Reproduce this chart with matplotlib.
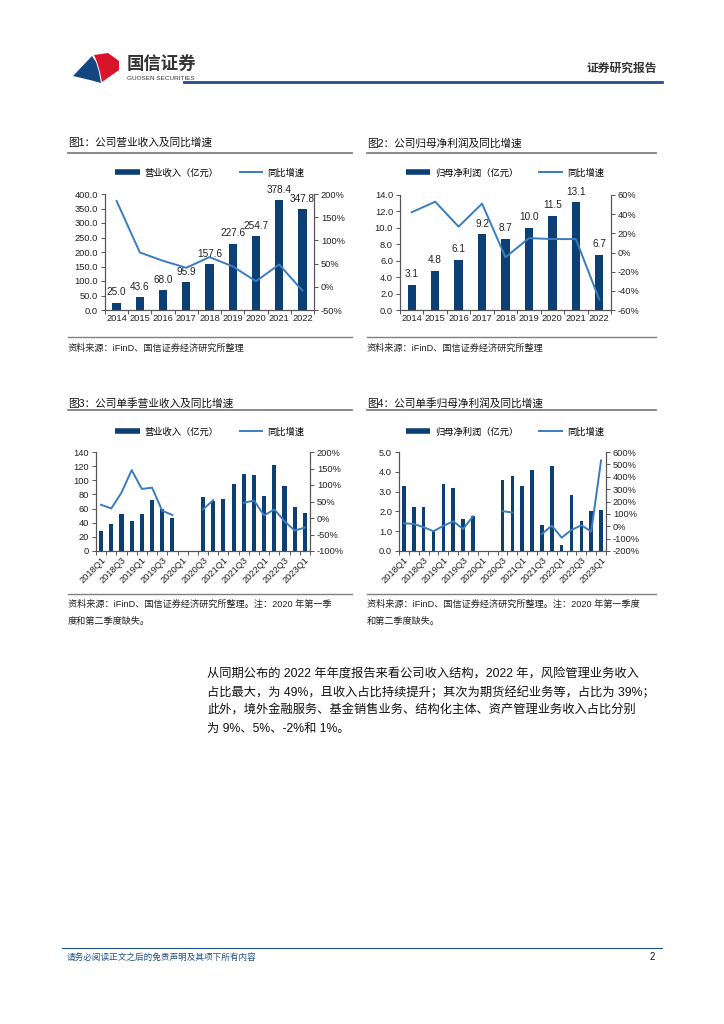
import numpy as np
import matplotlib
matplotlib.use("Agg")
import matplotlib.pyplot as plt
from matplotlib.lines import Line2D
from matplotlib.patches import Polygon

plt.rcParams['font.family'] = ['Liberation Sans', 'Noto Sans CJK SC', 'DejaVu Sans']
plt.rcParams['axes.unicode_minus'] = False

W, H = 724, 1024
BAR = '#0c3f73'
LINE = '#3a7cc2'
nan = np.nan

# ---- data ----
years = ['2014', '2015', '2016', '2017', '2018', '2019', '2020', '2021', '2022']
revenue = [25.0, 43.6, 68.0, 95.9, 157.6, 227.6, 254.7, 378.4, 347.8]
revenue_yoy = [185, 74, 56, 41, 64, 44, 12, 48, -8]
profit = [3.1, 4.8, 6.1, 9.2, 8.7, 10.0, 11.5, 13.1, 6.7]
profit_yoy = [42, 53, 27, 51, -5, 15, 14, 14, -49]

quarters = ['2018Q1', '2018Q2', '2018Q3', '2018Q4', '2019Q1', '2019Q2', '2019Q3', '2019Q4',
            '2020Q1', '2020Q2', '2020Q3', '2020Q4', '2021Q1', '2021Q2', '2021Q3', '2021Q4',
            '2022Q1', '2022Q2', '2022Q3', '2022Q4', '2023Q1']
q_revenue = [28, 38, 52, 43, 52, 72, 60, 46, nan, nan, 76, 71, 74, 95, 109, 107,
             78, 121, 92, 62, 54]
q_revenue_yoy = [40, 29, 77, 145, 88, 92, 22, 9, nan, nan, 26, 54, nan, nan, 46, 53,
                 8, 26, -10, -38, -29]
q_profit = [3.3, 2.2, 2.2, 1.0, 3.4, 3.2, 1.64, 1.77, nan, nan, 3.6, 3.8, 3.28, 4.1, 1.32, 4.3,
            0.3, 2.84, 1.54, 2.0, 2.08]
q_profit_yoy = [24, 19, -8, -40, 3, 40, -22, 80, nan, nan, 122, 111, nan, nan, -62, 5,
                -92, -30, 8, -43, 532]


def rect(x0, y0, x1, y1):
    return [x0 / W, 1 - y1 / H, (x1 - x0) / W, (y1 - y0) / H]


def ftext(x, y, s, **kw):
    fig.text(x / W, 1 - y / H, s, **kw)


def hline(x0, x1, y, color, lw):
    fig.add_artist(Line2D([x0 / W, x1 / W], [1 - y / H, 1 - y / H], color=color, lw=lw,
                          transform=fig.transFigure))


def combo(box, cats, bars, yoy, ylim, ystep, yfmt, rlim, rstep, width, legend_xy, labels,
          bar_label=False, rotate=False):
    ax = fig.add_axes(rect(*box))
    x = np.arange(len(cats))
    ax.bar(x, bars, width=width, color=BAR, zorder=2)
    if bar_label:
        for i, v in enumerate(bars):
            ax.annotate(f'{v:.1f}', (i, v), xytext=(0, 4), textcoords='offset points',
                        ha='center', va='bottom', fontsize=7.2, color='#222222')
    ax.set_xlim(-0.5, len(cats) - 0.5)
    ax.set_ylim(*ylim)
    ax.set_yticks(np.arange(ylim[0], ylim[1] + ystep / 2, ystep))
    ax.set_yticklabels([yfmt.format(v) for v in ax.get_yticks()])
    ax2 = ax.twinx()
    ax2.plot(x, yoy, color=LINE, lw=1.4, zorder=3)
    ax2.set_ylim(*rlim)
    rt = np.arange(rlim[0], rlim[1] + rstep / 2, rstep)
    ax2.set_yticks(rt)
    ax2.set_yticklabels([f'{int(v)}%' for v in rt])
    if rotate:
        ax.set_xticks(x[::2])
        ax.set_xticklabels(cats[::2], rotation=45, ha='right', rotation_mode='anchor')
    else:
        ax.set_xticks(x)
        ax.set_xticklabels(cats)
    ax.set_xticks(np.arange(-0.5, len(cats), 1), minor=True)
    for a in (ax, ax2):
        a.spines['top'].set_visible(False)
        for s in ('left', 'right', 'bottom'):
            a.spines[s].set_color('#555555')
            a.spines[s].set_linewidth(0.8)
        a.tick_params(labelsize=6.7, length=3, width=0.7, color='#555555', pad=2,
                      labelcolor='#222222')
    ax.tick_params(axis='x', which='major', length=0, pad=3)
    ax.tick_params(axis='x', which='minor', length=3, width=0.7, color='#555555')
    handles = [Line2D([], [], color=BAR, lw=4, solid_capstyle='butt'),
               Line2D([], [], color=LINE, lw=1.4, solid_capstyle='butt')]
    ax.legend(handles, labels, loc='center', ncol=2, frameon=False, fontsize=6.7,
              bbox_to_anchor=(legend_xy[0] / W, 1 - legend_xy[1] / H),
              bbox_transform=fig.transFigure, handlelength=2.6, handletextpad=0.5,
              columnspacing=2.2)
    return ax


fig = plt.figure(figsize=(W / 100, H / 100), dpi=100)

# ---- header ----
logo = fig.add_axes([0, 0, 1, 1], zorder=-1)
logo.set_xlim(0, W)
logo.set_ylim(H, 0)
logo.axis('off')
logo.add_patch(Polygon([(73, 76), (92, 56), (96, 62), (99, 72), (101, 83), (90, 80)],
                       closed=True, color='#12487f', lw=0))
logo.add_patch(Polygon([(94, 55), (108, 53), (119, 61), (119, 70), (102, 82), (100, 72), (97, 62)],
                       closed=True, color='#d9142a', lw=0))
ftext(127, 63, '国信证券', fontsize=12.5, fontweight='bold', color='#333333', va='center')
ftext(127, 78, 'GUOSEN SECURITIES', fontsize=4.6, color='#333333', va='center')
ftext(657, 69, '证券研究报告', fontsize=8.5, fontweight='bold', color='#333333',
      ha='right', va='center')
hline(184, 662, 82, '#1f4e86', 2.0)

# ---- chart titles and rules ----
titles = [(68, 143, '图1：公司营业收入及同比增速'), (367, 143, '图2：公司归母净利润及同比增速'),
          (68, 403, '图3：公司单季营业收入及同比增速'), (367, 403, '图4：公司单季归母净利润及同比增速')]
for tx, ty, t in titles:
    ftext(tx, ty, t, fontsize=7.7, va='center', color='#111111')
for x0, x1 in ((68, 352), (367, 656)):
    hline(x0, x1, 153, '#808080', 1.3)
    hline(x0, x1, 337, '#808080', 1.0)
    hline(x0, x1, 410, '#808080', 1.3)
    hline(x0, x1, 594, '#808080', 1.0)

src = '资料来源：iFinD、国信证券经济研究所整理'
ftext(68, 348, src, fontsize=6.6, va='center', color='#222222')
ftext(367, 348, src, fontsize=6.6, va='center', color='#222222')
ftext(68, 604, src + '。注：2020 年第一季', fontsize=6.6, va='center', color='#222222')
ftext(68, 621, '度和第二季度缺失。', fontsize=6.6, va='center', color='#222222')
ftext(367, 604, src + '。注：2020 年第一季度', fontsize=6.6, va='center', color='#222222')
ftext(367, 621, '和第二季度缺失。', fontsize=6.6, va='center', color='#222222')

# ---- charts ----
combo((105, 194, 314, 310), years, revenue, revenue_yoy, (0, 400), 50, '{:.1f}',
      (-50, 200), 50, 0.36, (210, 173), ['营业收入（亿元）', '同比增速'], bar_label=True)
combo((400, 195, 611, 310), years, profit, profit_yoy, (0, 14), 2, '{:.1f}',
      (-60, 60), 20, 0.36, (505, 173), ['归母净利润（亿元）', '同比增速'], bar_label=True)
combo((96, 452, 310, 551), quarters, q_revenue, q_revenue_yoy, (0, 140), 20, '{:.0f}',
      (-100, 200), 50, 0.4, (210, 432), ['营业收入（亿元）', '同比增速'], rotate=True)
combo((399, 452, 606, 551), quarters, q_profit, q_profit_yoy, (0, 5), 1, '{:.1f}',
      (-200, 600), 100, 0.36, (505, 432), ['归母净利润（亿元）', '同比增速'], rotate=True)

# ---- body text ----
body = ['从同期公布的 2022 年年度报告来看公司收入结构，2022 年，风险管理业务收入',
        '占比最大，为 49%，且收入占比持续提升；其次为期货经纪业务等，占比为 39%；',
        '此外，境外金融服务、基金销售业务、结构化主体、资产管理业务收入占比分别',
        '为 9%、5%、-2%和 1%。']
for i, line in enumerate(body):
    ftext(207, 675 + i * 18, line, fontsize=8.8, va='center', color='#111111')

# ---- footer ----
hline(62, 662, 948, '#1f4e86', 0.8)
ftext(67, 957, '请务必阅读正文之后的免责声明及其项下所有内容', fontsize=6.2, style='italic',
      color='#1f4e86', va='center')
ftext(655, 957, '2', fontsize=7, color='#111111', va='center', ha='right')

fig.savefig('out.png', dpi=100)
